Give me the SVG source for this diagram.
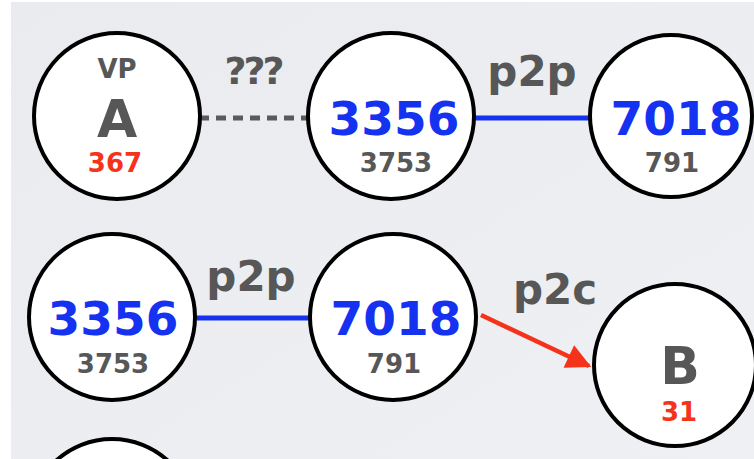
<svg xmlns="http://www.w3.org/2000/svg" width="754" height="459" viewBox="0 0 754 459">
<defs>
<linearGradient id="bg" x1="0" y1="0" x2="1" y2="1">
<stop offset="0" stop-color="#e9ebee"/>
<stop offset="1" stop-color="#eef0f3"/>
</linearGradient>
<marker id="ah" viewBox="0 0 10 10" refX="9" refY="5" markerWidth="6" markerHeight="5.5" markerUnits="strokeWidth" orient="auto">
<path d="M0,0 L10,5 L0,10 z" fill="#f5321a"/>
</marker>
<style>
.n{fill:#fff;stroke:#000;stroke-width:4}
text{font-family:"DejaVu Sans","Liberation Sans",sans-serif;font-weight:bold;text-anchor:middle}
.big{font-size:47px;fill:#1432f0}
.sub{font-size:26px;fill:#575757}
.red{font-size:26px;fill:#f5321a}
.let{font-size:52px;fill:#575757}
.lab{font-size:42px;fill:#575757}
</style>
</defs>
<rect width="754" height="459" fill="#fff"/>
<rect x="11" y="2" width="743" height="457" fill="url(#bg)"/>
<g id="connectors">
<line x1="199" y1="118" x2="308" y2="118" stroke="#5a5a5a" stroke-width="5" stroke-dasharray="10,7"/>
<line x1="475" y1="118" x2="592" y2="118" stroke="#1432f0" stroke-width="5"/>
<line x1="195" y1="318" x2="310" y2="318" stroke="#1432f0" stroke-width="5"/>
<line x1="481" y1="315" x2="589" y2="366" stroke="#f5321a" stroke-width="4.5" marker-end="url(#ah)"/>
<text class="lab" x="253" y="84" style="font-size:38px;letter-spacing:-3px">???</text>
<text class="lab" x="532" y="86">p2p</text>
<text class="lab" x="251" y="291">p2p</text>
<text class="lab" x="555" y="304">p2c</text>
</g>
<g id="nodeA">
<circle class="n" cx="117" cy="116" r="83"/>
<text x="117" y="78" style="font-size:26px;fill:#575757">VP</text>
<text class="let" x="117" y="137">A</text>
<text class="red" x="115" y="172">367</text>
</g>
<g id="node3356top">
<circle class="n" cx="391" cy="116" r="83"/>
<text class="big" x="394" y="135">3356</text>
<text class="sub" x="396" y="172">3753</text>
</g>
<g id="node7018top">
<circle class="n" cx="671" cy="116" r="81"/>
<text class="big" x="676" y="135">7018</text>
<text class="sub" x="672" y="172">791</text>
</g>
<g id="node3356bot">
<circle class="n" cx="112" cy="317" r="83"/>
<text class="big" x="113" y="335">3356</text>
<text class="sub" x="113" y="373">3753</text>
</g>
<g id="node7018bot">
<circle class="n" cx="393" cy="317" r="83"/>
<text class="big" x="396" y="335">7018</text>
<text class="sub" x="394" y="373">791</text>
</g>
<g id="nodeB">
<circle class="n" cx="675" cy="365" r="81"/>
<text class="let" x="680" y="384">B</text>
<text class="red" x="679" y="421">31</text>
</g>
<g id="nodeBottom">
<circle class="n" cx="112" cy="522" r="83"/>
</g>
</svg>
